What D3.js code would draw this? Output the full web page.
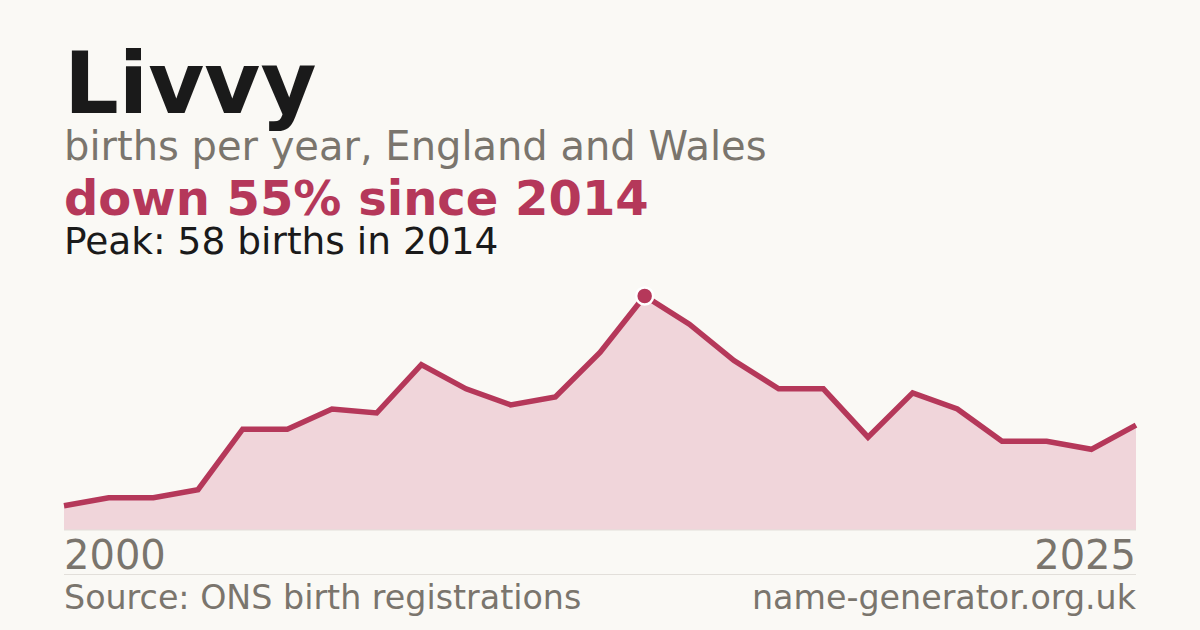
<!DOCTYPE html>
<html>
<head>
<meta charset="utf-8">
<script src="https://cdn.jsdelivr.net/npm/d3@7"></script>
<style>
  html, body { margin: 0; padding: 0; background: #faf9f5; }
  svg { display: block; font-family: "DejaVu Sans", sans-serif; }
</style>
</head>
<body>
<svg></svg>
<script>
const width = 1200;
const height = 630;

const years = [2001, 2002, 2003, 2004, 2005, 2006, 2007, 2008, 2009, 2010, 2011, 2012, 2013,
  2014, 2015, 2016, 2017, 2018, 2019, 2020, 2021, 2022, 2023, 2024, 2025];
const births = [6, 8, 8, 10, 25, 25, 30, 29, 41, 35, 31, 33, 44,
  58, 51, 42, 35, 35, 23, 34, 30, 22, 22, 20, 26];
const axisLabels = ['2000', '2025'];

const peakIndex = births.indexOf(d3.max(births));
const data = years.map((y, i) => ({ year: y, value: births[i] }));

const left = 64;
const right = 1136;
const baseY = 530;
const topY = 296;

const svg = d3.select('svg')
    .attr('width', width)
    .attr('height', height);

svg.append('rect')
    .attr('width', width)
    .attr('height', height)
    .attr('fill', '#faf9f5');

// headings
svg.append('text')
    .attr('x', 64).attr('y', 113)
    .attr('font-size', 86).attr('font-weight', 'bold')
    .attr('fill', '#1a1a1a')
    .text('Livvy');

svg.append('text')
    .attr('x', 64).attr('y', 160)
    .attr('font-size', 40)
    .attr('fill', '#7a756d')
    .text('births per year, England and Wales');

svg.append('text')
    .attr('x', 64).attr('y', 215)
    .attr('font-size', 48).attr('font-weight', 'bold')
    .attr('fill', '#b5385a')
    .text('down 55% since 2014');

svg.append('text')
    .attr('x', 64).attr('y', 254)
    .attr('font-size', 37.5)
    .attr('fill', '#1a1a1a')
    .text('Peak: ' + births[peakIndex] + ' births in ' + years[peakIndex]);

// chart
const x = d3.scaleLinear()
    .domain(d3.extent(years))
    .range([left, right]);

const y = d3.scaleLinear()
    .domain([0, d3.max(births)])
    .range([baseY, topY]);

const area = d3.area()
    .x(d => x(d.year))
    .y0(baseY)
    .y1(d => y(d.value));

const line = d3.line()
    .x(d => x(d.year))
    .y(d => y(d.value));

svg.append('path')
    .datum(data)
    .attr('d', area)
    .attr('fill', '#f0d5da');

svg.append('path')
    .datum(data)
    .attr('d', line)
    .attr('fill', 'none')
    .attr('stroke', '#b5385a')
    .attr('stroke-width', 5.5)
    .attr('stroke-linejoin', 'miter');

svg.append('line')
    .attr('x1', left).attr('x2', right)
    .attr('y1', baseY).attr('y2', baseY)
    .attr('stroke', '#e2dfda')
    .attr('stroke-width', 1);

svg.append('circle')
    .attr('cx', x(years[peakIndex]))
    .attr('cy', y(births[peakIndex]))
    .attr('r', 8.5)
    .attr('fill', '#b5385a')
    .attr('stroke', '#ffffff')
    .attr('stroke-width', 2.5);

// axis end labels
svg.append('text')
    .attr('x', left).attr('y', 569)
    .attr('font-size', 40)
    .attr('fill', '#7a756d')
    .text(axisLabels[0]);

svg.append('text')
    .attr('x', right).attr('y', 569)
    .attr('text-anchor', 'end')
    .attr('font-size', 40)
    .attr('fill', '#7a756d')
    .text(axisLabels[1]);

svg.append('line')
    .attr('x1', left).attr('x2', right)
    .attr('y1', 574.5).attr('y2', 574.5)
    .attr('stroke', '#e2dfda')
    .attr('stroke-width', 1);

// footer
svg.append('text')
    .attr('x', left).attr('y', 609)
    .attr('font-size', 33.3)
    .attr('fill', '#7a756d')
    .text('Source: ONS birth registrations');

svg.append('text')
    .attr('x', right).attr('y', 609)
    .attr('text-anchor', 'end')
    .attr('font-size', 33.3)
    .attr('fill', '#7a756d')
    .text('name-generator.org.uk');
</script>
</body>
</html>
